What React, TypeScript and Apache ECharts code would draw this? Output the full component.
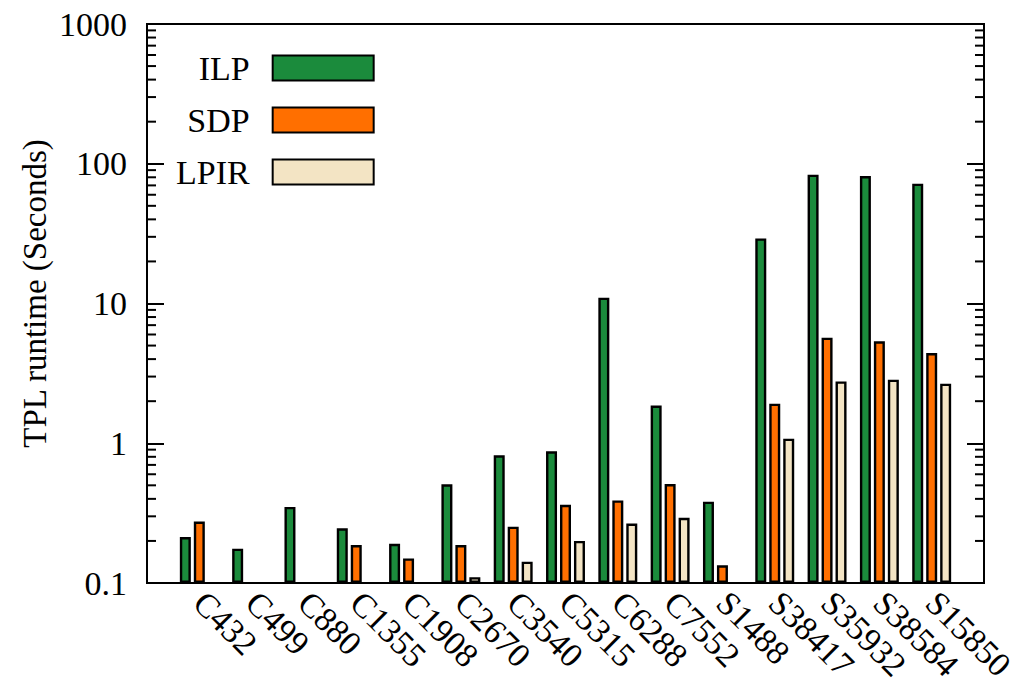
import React, { useEffect, useRef } from "react";
import * as echarts from "echarts";

const categories = ["C432", "C499", "C880", "C1355", "C1908", "C2670", "C3540", "C5315", "C6288", "C7552", "S1488", "S38417", "S35932", "S38584", "S15850"];
const ilp = [0.213, 0.176, 0.35, 0.246, 0.191, 0.508, 0.819, 0.875, 11.0, 1.86, 0.382, 29.2, 83.5, 81.7, 72.0];
const sdp = [0.275, null, null, 0.187, 0.15, 0.187, 0.253, 0.363, 0.39, 0.511, 0.134, 1.92, 5.69, 5.36, 4.42];
const lpir = [null, null, null, null, null, 0.11, 0.142, 0.2, 0.266, 0.293, null, 1.078, 2.77, 2.85, 2.67];
const seriesNames = ["ILP", "SDP", "LPIR"];
const seriesColors = ["#1b8b3c", "#ff6f00", "#f3e4c4"];
const yMin = 0.1;
const yMax = 1000;
const decades = [0.1, 1, 10, 100];
const minorMultipliers = [2, 3, 4, 5, 6, 7, 8, 9];

const FONT = "'Liberation Serif', 'Times New Roman', serif";

export default function App() {
  const ref = useRef<HTMLDivElement>(null);
  useEffect(() => {
    if (!ref.current) return;
    const chart = echarts.init(ref.current, null, { renderer: "svg" });
    const axisData = ["", ...categories, ""];
    const pad = (arr: (number | null)[]) => [null, ...arr, null];
    const minorTicks: number[][] = [];
    decades.forEach((d) => minorMultipliers.forEach((m) => minorTicks.push([0, d * m])));
    const fmt = (v: number) => String(parseFloat(Number(v).toPrecision(6)));

    const barSeries = [ilp, sdp, lpir].map((arr, i) => ({
      name: seriesNames[i],
      type: "bar",
      data: pad(arr),
      barWidth: 11,
      barGap: "27%",
      itemStyle: { color: seriesColors[i], borderColor: "#000", borderWidth: 2.4 },
    }));

    chart.setOption({
      animation: false,
      textStyle: { fontFamily: FONT },
      grid: { left: 147, right: 44, top: 24, bottom: 103, show: true, borderColor: "#000", borderWidth: 2 },
      legend: {
        data: seriesNames,
        orient: "vertical",
        left: 176,
        top: 51,
        padding: 0,
        itemWidth: 101,
        itemHeight: 25,
        itemGap: 18,
        align: "right",
        selectedMode: false,
        icon: "rect",
        textStyle: { fontSize: 34, fontFamily: FONT, color: "#000", lineHeight: 34, padding: [0, 18, 0, 0] },
      },
      xAxis: {
        type: "category",
        data: axisData,
        boundaryGap: false,
        axisTick: { show: false },
        axisLine: { lineStyle: { color: "#000", width: 2 } },
        axisLabel: { interval: 0, rotate: -45, fontSize: 34, fontFamily: FONT, color: "#000", margin: 14 },
        splitLine: { show: false },
      },
      yAxis: [
        {
          type: "log",
          logBase: 10,
          min: yMin,
          max: yMax,
          startValue: yMin,
          splitNumber: 4,
          name: "TPL runtime (Seconds)",
          nameLocation: "middle",
          nameGap: 96,
          nameMoveOverlap: false,
          nameTextStyle: { fontSize: 33, fontFamily: FONT, color: "#000", padding: [0, 0, 0, 20] },
          axisLine: { show: true, lineStyle: { color: "#000", width: 2 } },
          axisTick: { show: true, inside: true, length: 17, lineStyle: { color: "#000", width: 2 } },
          axisLabel: { fontSize: 34, fontFamily: FONT, color: "#000", margin: 20, formatter: fmt },
          splitLine: { show: false },
        },
        {
          type: "log",
          logBase: 10,
          min: yMin,
          max: yMax,
          startValue: yMin,
          splitNumber: 4,
          position: "right",
          axisLine: { show: true, lineStyle: { color: "#000", width: 2 } },
          axisTick: { show: true, inside: true, length: 17, lineStyle: { color: "#000", width: 2 } },
          axisLabel: { show: false },
          splitLine: { show: false },
        },
      ],
      series: [
        ...barSeries,
        {
          type: "custom",
          name: "minorTicks",
          silent: true,
          clip: false,
          data: minorTicks,
          renderItem: (params: any, api: any) => {
            const cs = params.coordSys;
            const y = api.coord([0, api.value(1)])[1];
            const st = { stroke: "#000", lineWidth: 2 };
            return {
              type: "group",
              children: [
                { type: "line", shape: { x1: cs.x, y1: y, x2: cs.x + 9, y2: y }, style: st },
                { type: "line", shape: { x1: cs.x + cs.width - 9, y1: y, x2: cs.x + cs.width, y2: y }, style: st },
              ],
            };
          },
        },
      ],
    });
    return () => chart.dispose();
  }, []);
  return <div ref={ref} style={{ position: "fixed", left: 0, top: 0, width: 1028, height: 686, background: "#fff" }} />;
}
